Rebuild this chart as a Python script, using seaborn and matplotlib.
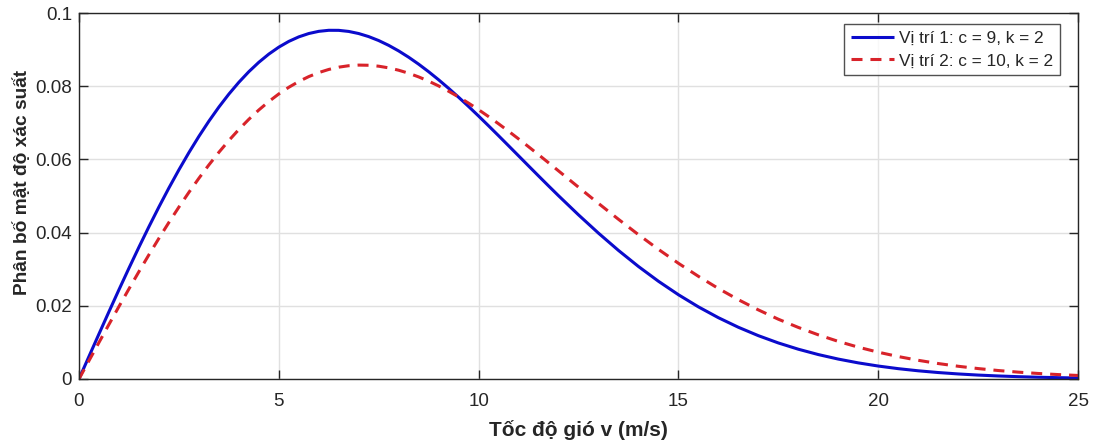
import numpy as np
import pandas as pd
import seaborn as sns
import matplotlib
matplotlib.use("Agg")
import matplotlib.pyplot as plt

# wind speed samples (m/s): 0..12 every 0.25, then 12.5..25 every 0.5
v = [0.0, 0.25, 0.5, 0.75, 1.0, 1.25, 1.5, 1.75, 2.0, 2.25, 2.5, 2.75, 3.0, 3.25, 3.5, 3.75,
     4.0, 4.25, 4.5, 4.75, 5.0, 5.25, 5.5, 5.75, 6.0, 6.25, 6.5, 6.75, 7.0, 7.25, 7.5, 7.75,
     8.0, 8.25, 8.5, 8.75, 9.0, 9.25, 9.5, 9.75, 10.0, 10.25, 10.5, 10.75, 11.0, 11.25, 11.5, 11.75,
     12.0, 12.5, 13.0, 13.5, 14.0, 14.5, 15.0, 15.5, 16.0, 16.5, 17.0, 17.5, 18.0, 18.5, 19.0,
     19.5, 20.0, 20.5, 21.0, 21.5, 22.0, 22.5, 23.0, 23.5, 24.0, 24.5, 25.0]
pdf_site1 = [0.0, 0.006168, 0.012308, 0.018390, 0.024388, 0.030275, 0.036022, 0.041607,
             0.047004, 0.052193, 0.057144, 0.061849, 0.066284, 0.070437, 0.074290, 0.077836,
             0.081062, 0.083964, 0.086533, 0.088771, 0.090672, 0.092242, 0.093479, 0.094393,
             0.094990, 0.095276, 0.095263, 0.094964, 0.094390, 0.093553, 0.092473, 0.091161,
             0.089637, 0.087916, 0.086017, 0.083956, 0.081752, 0.079420, 0.076981, 0.074449,
             0.071842, 0.069177, 0.066468, 0.063730, 0.060979, 0.058225, 0.055484, 0.052764,
             0.050078, 0.044846, 0.039848, 0.035133, 0.030743, 0.026706, 0.023029, 0.019713,
             0.016753, 0.014136, 0.011843, 0.009852, 0.008140, 0.006679, 0.005443, 0.004405,
             0.003541, 0.002827, 0.002242, 0.001766, 0.001381, 0.001072, 0.000828, 0.000635,
             0.000483, 0.000366, 0.000275]
pdf_site2 = [0.0, 0.004997, 0.009975, 0.014916, 0.019801, 0.024612, 0.029332, 0.033944,
             0.038432, 0.042779, 0.046970, 0.050994, 0.054835, 0.058485, 0.061929, 0.065161,
             0.068171, 0.070954, 0.073502, 0.075812, 0.077880, 0.079705, 0.081286, 0.082625,
             0.083721, 0.084579, 0.085203, 0.085597, 0.085768, 0.085722, 0.085467, 0.085013,
             0.084367, 0.083540, 0.082541, 0.081383, 0.080074, 0.078628, 0.077055, 0.075367,
             0.073576, 0.071692, 0.069728, 0.067695, 0.065603, 0.063464, 0.061288, 0.059085,
             0.056863, 0.052403, 0.047975, 0.043638, 0.039440, 0.035424, 0.031620, 0.028057,
             0.024730, 0.021672, 0.018884, 0.016337, 0.014092, 0.012069, 0.010278, 0.008697,
             0.007326, 0.006137, 0.005110, 0.004226, 0.003480, 0.002851, 0.002319, 0.001876,
             0.001512, 0.001210, 0.000965]
labels = ["Vị trí 1: c = 9, k = 2", "Vị trí 2: c = 10, k = 2"]
xticks = [0, 5, 10, 15, 20, 25]
yticks = [0, 0.02, 0.04, 0.06, 0.08, 0.1]
ytick_labels = ["0", "0.02", "0.04", "0.06", "0.08", "0.1"]

sns.set_theme(style="white")
plt.rcParams['font.family'] = ['Liberation Sans', 'DejaVu Sans']

df = pd.DataFrame({
    "v": v * 2,
    "pdf": pdf_site1 + pdf_site2,
    "site": [labels[0]] * len(v) + [labels[1]] * len(v),
})

fig = plt.figure(figsize=(10.97, 4.41), dpi=100)
ax = fig.add_axes([0.072, 0.1406, 0.9107, 0.8299])

sns.lineplot(data=df, x="v", y="pdf", hue="site", style="site",
             palette=["#0b0bcc", "#d8232a"],
             dashes=[(1, 0), (3.6, 2.6)], linewidth=2.2, ax=ax, legend=True)

ax.set_xlim(0, 25)
ax.set_ylim(0, 0.1)
ax.set_xticks(xticks)
ax.set_xticklabels([str(t) for t in xticks])
ax.set_yticks(yticks)
ax.set_yticklabels(ytick_labels)
ax.grid(True, color="#e0e0e0", linewidth=1.0)
ax.set_axisbelow(True)
for s in ax.spines.values():
    s.set_color("#262626")
    s.set_linewidth(1.0)
ax.tick_params(direction="in", length=6.5, width=1, color="#262626",
               labelsize=13.5, labelcolor="#262626", top=True, right=True,
               left=True, bottom=True)
ax.tick_params(axis="y", pad=5)
ax.tick_params(axis="x", pad=10)
ax.set_xlabel("Tốc độ gió v (m/s)", fontsize=15, fontweight="bold", color="#262626", labelpad=7)
ax.set_ylabel("Phân bố mật độ xác suất", fontsize=13.8, fontweight="bold", color="#262626")
ax.yaxis.set_label_coords(-0.048, 0.537)

leg = ax.legend(loc="upper right", bbox_to_anchor=(0.982, 0.970), fontsize=12.4,
                frameon=True, fancybox=False, edgecolor="#262626",
                handlelength=2.5, borderpad=0.4, labelspacing=0.43, handletextpad=0.3,
                borderaxespad=0.0)
leg.get_frame().set_linewidth(1.0)

fig.savefig("out.png", dpi=100)
